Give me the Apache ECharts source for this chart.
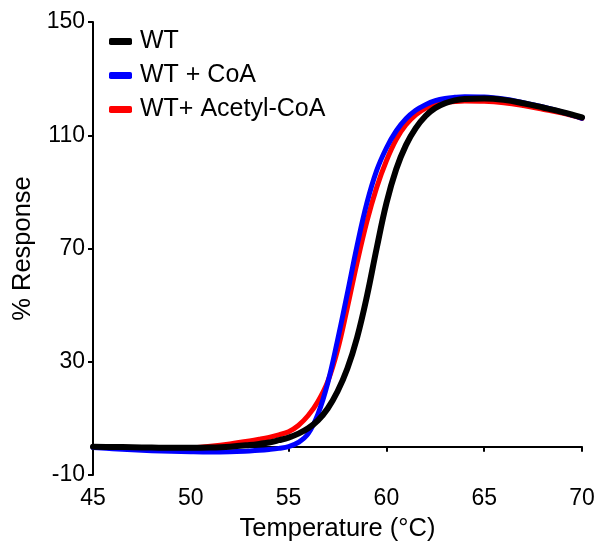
<!DOCTYPE html>
<html>
<head>
<meta charset="utf-8">
<script src="https://cdn.jsdelivr.net/npm/echarts@6/dist/echarts.min.js"></script>
<style>
  html, body { margin: 0; padding: 0; background: #fff; }
  #chart { width: 599px; height: 548px; }
</style>
</head>
<body>
<div id="chart"></div>
<script>
// temperature points (°C)
const temps = [45, 46, 47, 48, 49, 50, 51, 52, 53, 53.5, 54, 54.5, 55, 55.5, 56, 56.5, 57, 57.5, 58, 58.5, 59, 59.5, 60, 60.5, 61, 61.5, 62, 62.5, 63, 63.5, 64, 65, 66, 67, 68, 69, 70];
// % response for each curve
const wt = [0, -0.1, -0.2, -0.3, -0.4, -0.4, -0.3, 0, 0.6, 1, 1.5, 2.3, 3.2, 4.6, 6.5, 9.3, 13.5, 19.5, 27.5, 38.5, 53, 70, 86, 98, 106.5, 112.5, 116.8, 119.6, 121.3, 122.3, 122.8, 123, 122.5, 121.3, 119.8, 118.2, 116.3];
const wtCoA = [-0.3, -0.7, -1.1, -1.4, -1.6, -1.8, -1.9, -1.8, -1.5, -1.3, -1, -0.6, 0, 1.5, 4.6, 11.5, 22.5, 37.5, 54, 71, 86, 97.5, 105.5, 111.5, 115.8, 118.8, 120.8, 122.2, 123, 123.4, 123.6, 123.5, 122.8, 121.5, 120, 118.2, 116];
const wtAcCoA = [0, -0.1, -0.3, -0.4, -0.5, -0.4, 0.2, 1, 2, 2.6, 3.3, 4.2, 5.3, 7.5, 11, 16, 23, 34, 49, 65, 79.5, 91.5, 101, 108.5, 113.7, 117.2, 119.5, 120.8, 121.5, 121.9, 122.1, 122, 121.5, 120.5, 119.2, 117.8, 116];
const yTicks = [-10, 30, 70, 110, 150];
const seriesNames = ['WT', 'WT + CoA', 'WT+ Acetyl-CoA'];
const seriesColors = ['#000000', '#0000ff', '#ff0000'];

const font = 'Liberation Sans, Arial, sans-serif';
const pair = (ys) => temps.map((t, i) => [t, ys[i]]);

const chart = echarts.init(document.getElementById('chart'));
const makeSeries = (name, ys, color, width, z) => ({
  name,
  type: 'line',
  data: pair(ys),
  smooth: 0.4,
  showSymbol: false,
  z,
  lineStyle: { color, width, cap: 'round', join: 'round' },
  itemStyle: { color }
});

chart.setOption({
  animation: false,
  grid: { left: 93, right: 17, top: 22, bottom: 73 },
  legend: {
    orient: 'vertical',
    left: 104,
    top: 24,
    itemGap: 9,
    itemWidth: 23,
    itemHeight: 7,
    icon: 'roundRect',
    textStyle: { fontFamily: font, fontSize: 25, color: '#000', padding: [0, 0, 0, 3] },
    data: seriesNames
  },
  xAxis: {
    type: 'value',
    min: 45,
    max: 70,
    interval: 5,
    name: 'Temperature (°C)',
    nameLocation: 'middle',
    nameGap: 41,
    nameTextStyle: { fontFamily: font, fontSize: 25.5, color: '#000' },
    axisLine: { lineStyle: { color: '#000', width: 2 } },
    axisTick: { length: 5, lineStyle: { color: '#000', width: 2 } },
    axisLabel: { fontFamily: font, fontSize: 23, color: '#000', margin: 12 },
    splitLine: { show: false }
  },
  yAxis: {
    type: 'value',
    min: -10,
    max: 150,
    name: '% Response',
    nameLocation: 'middle',
    nameGap: 54,
    nameTextStyle: { fontFamily: font, fontSize: 25.5, color: '#000' },
    axisLine: { show: true, lineStyle: { color: '#000', width: 2 } },
    axisTick: { show: true, length: 5, customValues: yTicks, lineStyle: { color: '#000', width: 2 } },
    axisLabel: { fontFamily: font, fontSize: 23, color: '#000', margin: 8, customValues: yTicks },
    splitLine: { show: false }
  },
  series: [
    makeSeries(seriesNames[0], wt, seriesColors[0], 6, 4),
    makeSeries(seriesNames[1], wtCoA, seriesColors[1], 5, 3),
    makeSeries(seriesNames[2], wtAcCoA, seriesColors[2], 5, 2)
  ]
});
</script>
</body>
</html>
